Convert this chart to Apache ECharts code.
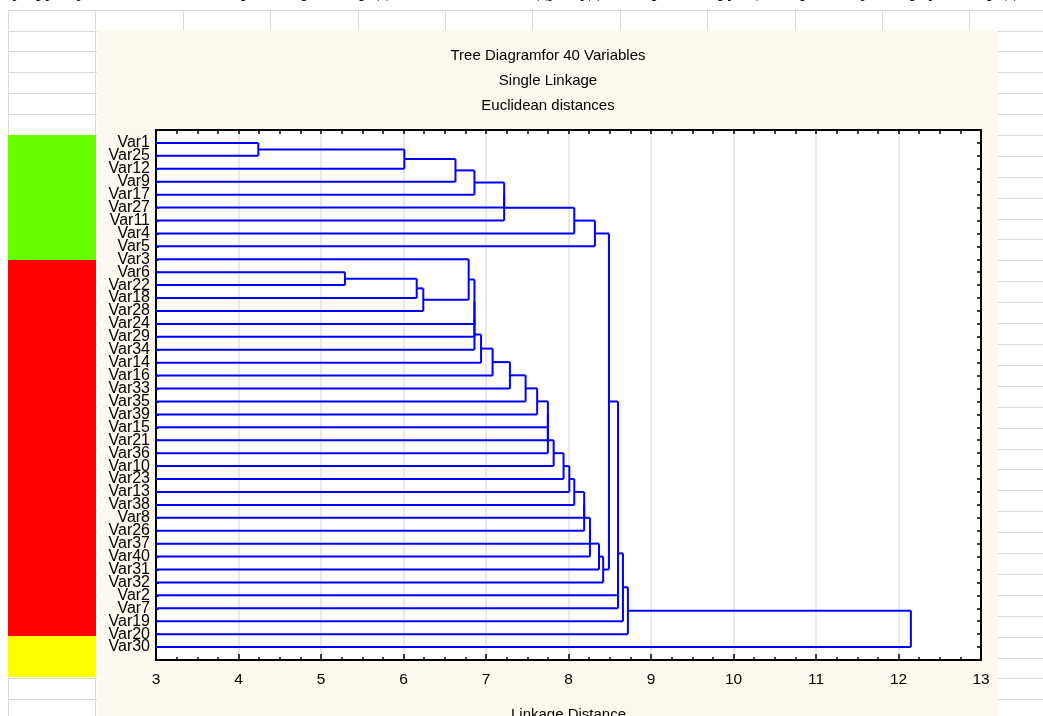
<!DOCTYPE html>
<html><head><meta charset="utf-8">
<script src="https://cdn.jsdelivr.net/npm/echarts@6/dist/echarts.min.js"></script>
<style>html,body{margin:0;padding:0;background:#fff;overflow:hidden}#c{width:1043px;height:716px}</style>
</head><body><div id="c"></div>
<script>
// leaf order (top to bottom)
const varNames = ['Var1','Var25','Var12','Var9','Var17','Var27','Var11','Var4','Var5','Var3',
  'Var6','Var22','Var18','Var28','Var24','Var29','Var34','Var14','Var16','Var33',
  'Var35','Var39','Var15','Var21','Var36','Var10','Var23','Var13','Var38','Var8',
  'Var26','Var37','Var40','Var31','Var32','Var2','Var7','Var19','Var20','Var30'];
// merge steps: member A, member B (leaf name or index of an earlier merge), linkage distance
const mergeA = ['Var1',0,1,2,3,4,5,6,
  'Var6',8,9,'Var3',11,12,13,14,15,16,17,18,19,20,21,22,23,24,25,26,27,28,29,30,31,
  7,33,34,35,36,37];
const mergeB = ['Var25','Var12','Var9','Var17','Var27','Var11','Var4','Var5',
  'Var22','Var18','Var28',10,'Var24','Var29','Var34','Var14','Var16','Var33','Var35','Var39',
  'Var15','Var21','Var36','Var10','Var23','Var13','Var38','Var8','Var26','Var37','Var40','Var31','Var32',
  32,'Var2','Var7','Var19','Var20','Var30'];
const mergeDist = [4.24,6.01,6.63,6.86,7.22,7.22,8.07,8.32,
  5.29,6.16,6.24,6.79,6.86,6.86,6.86,6.94,7.08,7.29,7.48,7.62,
  7.75,7.75,7.75,7.82,7.94,8.01,8.07,8.19,8.19,8.26,8.26,8.37,8.42,
  8.49,8.60,8.60,8.66,8.72,12.15];
const xMin = 3, xMax = 13;
const titleLines = ['Tree Diagramfor 40 Variables','Single Linkage','Euclidean distances'];

// build dendrogram segments in data space
const leafPos = {};
varNames.forEach((n,i)=>{leafPos[n]=i;});
const cPos = [], cH = [];
const P = k => typeof k === 'number' ? cPos[k] : leafPos[k];
const H = k => typeof k === 'number' ? cH[k] : xMin;
const segs = [];
for (let i = 0; i < mergeDist.length; i++) {
  const a = mergeA[i], b = mergeB[i], d = mergeDist[i];
  const pa = P(a), pb = P(b);
  segs.push([H(a), pa, d, pa], [H(b), pb, d, pb], [d, pa, d, pb]);
  cPos[i] = (pa + pb) / 2; cH[i] = d;
}

const FONT = 'Liberation Sans, Arial, sans-serif';
// spreadsheet background
const gfx = [];
const rowH = 20.9, rowTop = 9.6, colW = 87.4, colLeft = 8;
for (let k = 0; k < 35; k++) {
  const y = Math.round(rowTop + k*rowH) + 0.5;
  gfx.push({type:'line', z:-30, silent:true, shape:{x1:colLeft, y1:y, x2:1043, y2:y}, style:{stroke:'#d9d9d9', lineWidth:1}});
}
for (let k = 0; k < 13; k++) {
  const x = Math.round(colLeft + k*colW) + 0.5;
  gfx.push({type:'line', z:-30, silent:true, shape:{x1:x, y1:rowTop, x2:x, y2:716}, style:{stroke:'#d9d9d9', lineWidth:1}});
}
gfx.push({type:'rect', z:-25, silent:true, shape:{x:8, y:135, width:88, height:125}, style:{fill:'#66ff00'}});
gfx.push({type:'rect', z:-25, silent:true, shape:{x:8, y:260, width:88, height:376}, style:{fill:'#ff0000'}});
gfx.push({type:'rect', z:-25, silent:true, shape:{x:8, y:636, width:88, height:41}, style:{fill:'#ffff00'}});
gfx.push({type:'rect', z:-20, silent:true, shape:{x:97, y:30, width:901, height:700}, style:{fill:'#fdf9ee'}});
gfx.push({type:'text', z:5, silent:true, style:{text:'ту группу объектов, по которым первоочередное внимание следует уделить реконструкции и ремонту в первую очередь', x:4, y:1, verticalAlign:'bottom', font:'20px "Liberation Serif", serif', fill:'#000'}});
const titleY = [56, 81, 106];
titleLines.forEach((t,i)=>{
  gfx.push({type:'text', z:5, silent:true, style:{text:t, x:548, y:titleY[i], align:'center', verticalAlign:'middle', font:'15px ' + FONT, fill:'#000'}});
});

const axisLineStyle = {show:true, onZero:false, lineStyle:{color:'#000', width:2}};
const chart = echarts.init(document.getElementById('c'), null, {renderer:'canvas'});
chart.setOption({
  animation:false,
  backgroundColor:'transparent',
  graphic: gfx,
  grid:{left:156, top:130, width:825, height:530, show:true, backgroundColor:'#ffffff', borderWidth:0,
        containLabel:false, outerBoundsMode:'none'},
  xAxis:[
    {type:'value', min:xMin, max:xMax, interval:1, position:'bottom',
     axisLine:axisLineStyle,
     axisTick:{show:true, inside:true, length:6, lineStyle:{color:'#000', width:1.5}},
     minorTick:{show:true, splitNumber:4, length:3, lineStyle:{color:'#000', width:1.5}},
     axisLabel:{fontSize:15.5, color:'#000', margin:12, fontFamily:FONT},
     splitLine:{show:true, lineStyle:{color:'#e2e2e2', width:1.5}},
     name:'Linkage Distance', nameLocation:'middle', nameGap:47,
     nameTextStyle:{fontSize:15, color:'#000', fontFamily:FONT}},
    {type:'value', min:xMin, max:xMax, interval:1, position:'top',
     axisLine:axisLineStyle,
     axisTick:{show:true, inside:true, length:4, lineStyle:{color:'#000', width:1.5}},
     minorTick:{show:true, splitNumber:4, length:4, lineStyle:{color:'#000', width:1.5}},
     axisLabel:{show:false}, splitLine:{show:false}}
  ],
  yAxis:[
    {type:'value', min:-1, max:varNames.length, interval:1, inverse:true, position:'left',
     axisLine:axisLineStyle,
     axisTick:{show:true, inside:true, length:3, lineStyle:{color:'#000', width:1.5}},
     axisLabel:{fontSize:16, color:'#000', margin:6, fontFamily:FONT, lineHeight:13,
       formatter:v => varNames[v] || ''},
     splitLine:{show:false}},
    {type:'value', min:-1, max:varNames.length, interval:1, inverse:true, position:'right',
     axisLine:axisLineStyle,
     axisTick:{show:true, inside:true, length:4, lineStyle:{color:'#000', width:1.5}},
     axisLabel:{show:false}, splitLine:{show:false}}
  ],
  series:[{
    type:'custom', xAxisIndex:0, yAxisIndex:0, silent:true, clip:true,
    encode:{x:[0,2], y:[1,3]},
    data: segs,
    renderItem:(params, api) => {
      const p1 = api.coord([api.value(0), api.value(1)]);
      const p2 = api.coord([api.value(2), api.value(3)]);
      return {type:'line', shape:{x1:p1[0], y1:p1[1], x2:p2[0], y2:p2[1]},
              style:{stroke:'#0000ff', lineWidth:2}};
    }
  }]
});
</script></body></html>
